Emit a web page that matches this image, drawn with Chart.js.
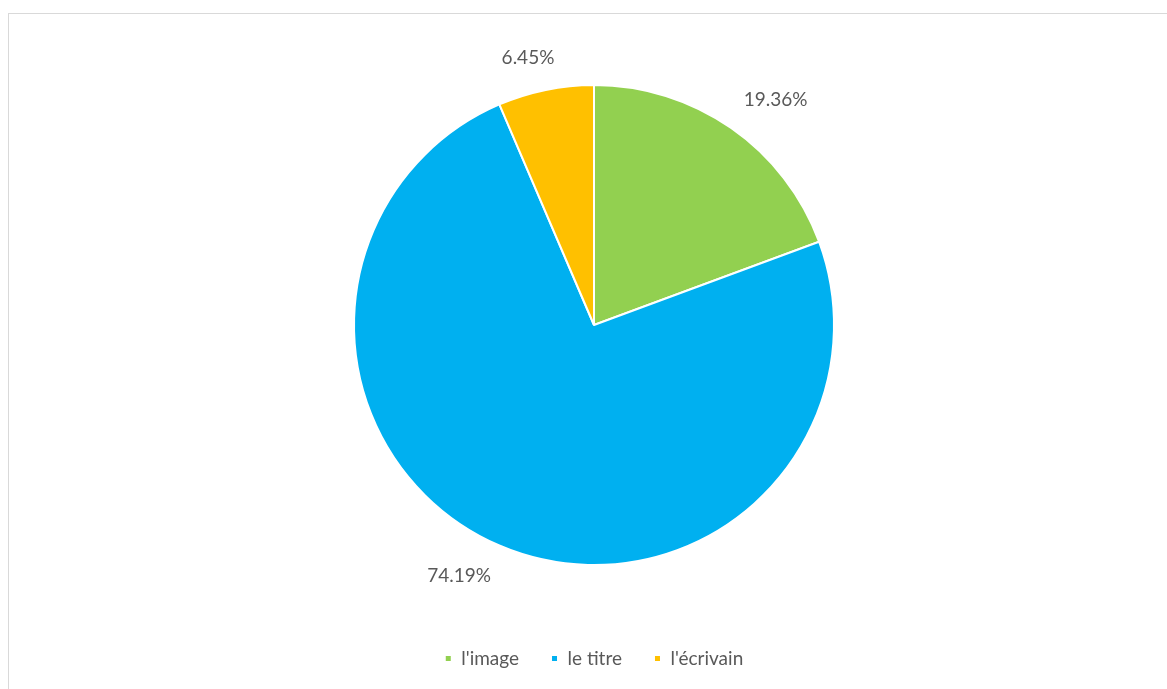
<!DOCTYPE html>
<html>
<head>
<meta charset="utf-8">
<script src="https://cdn.jsdelivr.net/npm/chart.js@4/dist/chart.umd.min.js"></script>
<style>
  html, body { margin: 0; padding: 0; background: #fff; overflow: hidden; }
  #frame { position: absolute; left: 8px; top: 13px; width: 1200px; height: 720px; border: 1px solid #d9d9d9; box-sizing: border-box; pointer-events: none; }
  #wrap { position: absolute; left: 0; top: 0; width: 1167px; height: 689px; }
</style>
</head>
<body>
<div id="wrap"><canvas id="chart"></canvas></div>
<div id="frame"></div>
<script>
'use strict';

// chart data
const categories = ["l'image", 'le titre', "l'écrivain"];
const percents = [19.36, 74.19, 6.45];
const sliceColors = ['#92D050', '#00B0F0', '#FFC000'];

const labelFont = '19px Lato, "Open Sans", sans-serif';

// draws the percentage next to each slice, outside the pie
const outsideLabels = {
  id: 'outsideLabels',
  afterDatasetsDraw(chart) {
    const ctx = chart.ctx;
    const meta = chart.getDatasetMeta(0);
    ctx.save();
    ctx.font = labelFont;
    ctx.fillStyle = '#595959';
    ctx.textAlign = 'center';
    ctx.textBaseline = 'middle';
    meta.data.forEach((arc, i) => {
      const p = arc.getProps(['x', 'y', 'startAngle', 'endAngle', 'outerRadius'], true);
      const mid = (p.startAngle + p.endAngle) / 2;
      const dx = Math.cos(mid), dy = Math.sin(mid);
      const r = p.outerRadius + 22;
      const text = percents[i].toFixed(2) + '%';
      const w = ctx.measureText(text).width;
      const h = 20;
      const px = p.x + dx * r, py = p.y + dy * r;
      const cx = px + Math.sign(dx) * (w / 2) * Math.min(1, Math.abs(dx) * 2.5);
      const cy = py + Math.sign(dy) * h / 2;
      ctx.fillText(text, cx, cy);
    });
    ctx.restore();
  }
};

const chartData = {
  labels: categories,
  datasets: [
    {
      data: percents,
      backgroundColor: sliceColors,
      borderColor: '#ffffff',
      borderWidth: 2,
      radius: 240,
    },
  ],
};

const chartConfig = {
  type: 'pie',
  data: chartData,
  options: {
    responsive: true,
    maintainAspectRatio: false,
    animation: false,
    layout: { padding: { top: 33, left: 21, right: 0, bottom: 11 } },
    plugins: {
      tooltip: { enabled: false },
      legend: {
        position: 'bottom',
        labels: {
          color: '#595959',
          font: { family: 'Lato, "Open Sans", sans-serif', size: 19 },
          usePointStyle: true,
          pointStyle: 'rect',
          boxWidth: 7,
          boxHeight: 7,
          padding: 32,
        },
      },
    },
  },
  plugins: [outsideLabels],
};

new Chart(document.getElementById('chart'), chartConfig);
</script>
</body>
</html>
